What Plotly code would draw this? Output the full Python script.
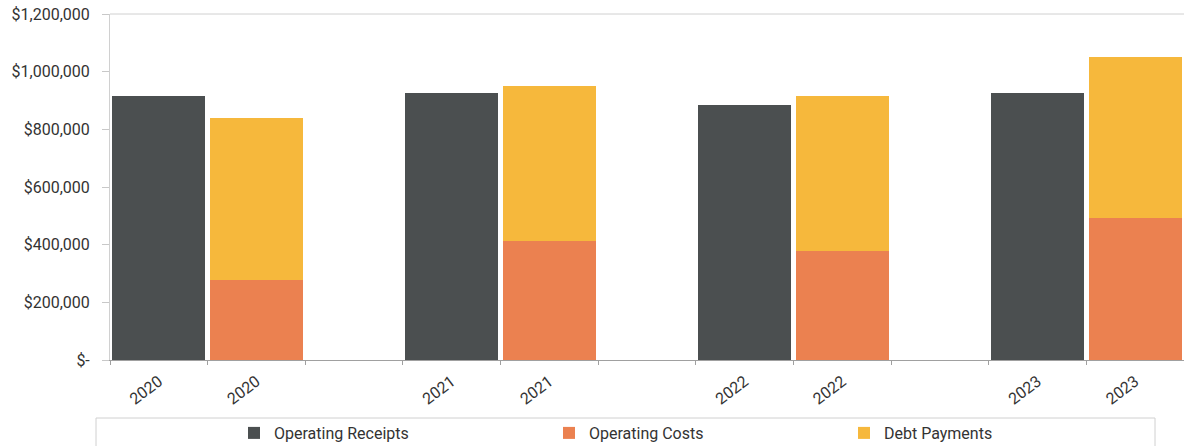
import plotly.graph_objects as go

# ---- data ----
years = ["2020", "2021", "2022", "2023"]
operating_receipts = [916000, 925000, 885000, 925000]
operating_costs = [277000, 413000, 378000, 491000]
debt_payments = [562000, 538000, 536000, 561000]

y_tick_values = [0, 200000, 400000, 600000, 800000, 1000000, 1200000]
y_tick_labels = ["$-", "$200,000", "$400,000", "$600,000", "$800,000", "$1,000,000", "$1,200,000"]

series_names = ["Operating Receipts", "Operating Costs", "Debt Payments"]
series_colors = ["#4b4f50", "#eb8150", "#f6b83c"]

# ---- category slots: receipts column, costs column, gap ----
slot_ids = []
slot_labels = []
for i, yr in enumerate(years):
    slot_ids += [yr + "-R", yr + "-C"]
    slot_labels += [yr, yr]
    if i < len(years) - 1:
        slot_ids.append("gap-" + yr)
        slot_labels.append("")

rec_x = [yr + "-R" for yr in years]
cost_x = [yr + "-C" for yr in years]

FONT = "Roboto"
TXT = "#333333"

fig = go.Figure()
fig.add_trace(go.Bar(x=rec_x, y=operating_receipts, name=series_names[0],
                     marker=dict(color=series_colors[0], line=dict(width=0)),
                     legend="legend"))
fig.add_trace(go.Bar(x=cost_x, y=operating_costs, name=series_names[1],
                     marker=dict(color=series_colors[1], line=dict(width=0)),
                     legend="legend2"))
fig.add_trace(go.Bar(x=cost_x, y=debt_payments, name=series_names[2],
                     marker=dict(color=series_colors[2], line=dict(width=0)),
                     legend="legend3"))

W, H = 1184, 446
ml, mr, mt, mb = 110, 0, 14, 86
pw, ph = W - ml - mr, H - mt - mb

def px(x):
    return (x - ml) / pw

def py(y):
    return (H - mb - y) / ph

def cx(x):
    return x / W

def cy(y):
    return (H - y) / H

legend_common = dict(orientation="h", bgcolor="rgba(0,0,0,0)", borderwidth=0,
                     font=dict(family=FONT, size=16, color=TXT),
                     xref="container", yref="container",
                     yanchor="middle", xanchor="left", y=cy(433))

fig.update_layout(
    width=W, height=H,
    margin=dict(l=ml, r=mr, t=mt, b=mb, pad=0, autoexpand=False),
    paper_bgcolor="white", plot_bgcolor="white",
    barmode="stack", bargap=0.05,
    font=dict(family=FONT, size=15, color=TXT),
    showlegend=True,
    legend=dict(legend_common, x=cx(234)),
    legend2=dict(legend_common, x=cx(549)),
    legend3=dict(legend_common, x=cx(844)),
    xaxis=dict(type="category", categoryorder="array", categoryarray=slot_ids,
               tickvals=slot_ids, ticktext=slot_labels,
               range=[-0.5, len(slot_ids) - 0.5], automargin=False,
               tickson="boundaries", ticks="outside", ticklen=4, tickcolor="#a0a0a0",
               showline=True, linecolor="#a0a0a0", linewidth=1,
               showgrid=False, tickangle=-37, ticklabelstandoff=5,
               tickfont=dict(family=FONT, size=16, color=TXT)),
    yaxis=dict(range=[0, 1200000], tickvals=y_tick_values, ticktext=y_tick_labels,
               automargin=False,
               ticks="outside", ticklen=7, tickcolor="#c8c8c8",
               showline=True, linecolor="#d0d0d0", linewidth=1,
               showgrid=False, zeroline=False, ticklabelstandoff=9,
               tickfont=dict(family=FONT, size=16, color=TXT)),
    shapes=[
        dict(type="line", xref="paper", yref="paper", x0=0, x1=1, y0=1, y1=1,
             line=dict(color="#d0d0d0", width=1)),
        dict(type="rect", xref="paper", yref="paper",
             x0=px(96), x1=px(1155), y0=py(418), y1=py(450),
             line=dict(color="#d0d0d0", width=1), fillcolor="rgba(0,0,0,0)"),
    ],
)

fig.write_html(
    "out.html",
    config={"displayModeBar": False},
    post_script="document.body.style.margin='0';document.body.style.padding='0';"
                "document.body.style.overflow='hidden';",
)
